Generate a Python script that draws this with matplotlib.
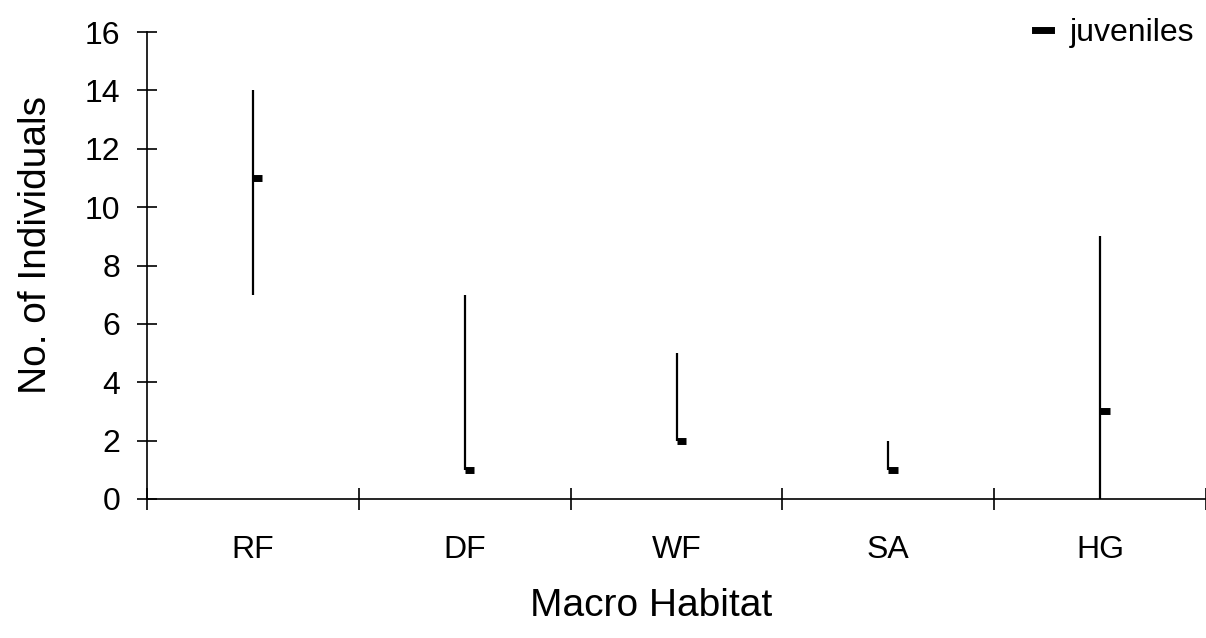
import matplotlib
matplotlib.use("Agg")
import matplotlib.pyplot as plt
from matplotlib.lines import Line2D

# habitat categories and juvenile counts (high / low / close)
habitats = ["RF", "DF", "WF", "SA", "HG"]
high = [14, 7, 5, 2, 9]
low = [7, 1, 2, 1, 0]
juveniles = [11, 1, 2, 1, 3]

plt.rcParams['font.family'] = ['Liberation Sans', 'DejaVu Sans']

fig = plt.figure(figsize=(12.06, 6.38), dpi=100)
ax = fig.add_axes([0.1219, 0.2179, 0.8781, 0.7319])

xs = [i + 0.5 for i in range(len(habitats))]
# high-low lines
ax.vlines(xs, low, high, colors="black", linewidth=1.6)
# close marks
ax.hlines(juveniles, xs, [x + 0.045 for x in xs], colors="black", linewidth=5)

ax.set_xlim(0, len(habitats))
ax.set_ylim(0, 16)
ax.set_yticks(range(0, 17, 2))
ax.set_xticks(range(0, len(habitats) + 1))
ax.set_xticklabels([])
ax.set_xticks(xs, minor=True)
ax.set_xticklabels(habitats, minor=True)

ax.tick_params(axis="y", direction="inout", length=14.5, width=1.2, labelsize=23, pad=12)
ax.tick_params(axis="x", which="major", direction="inout", length=16, width=1.2)
ax.tick_params(axis="x", which="minor", length=0, labelsize=23, pad=26)

for s in ["top", "right"]:
    ax.spines[s].set_visible(False)
ax.spines["left"].set_linewidth(1.2)
ax.spines["bottom"].set_linewidth(1.2)

ax.set_ylabel("No. of Individuals", fontsize=28)
ax.yaxis.set_label_coords(-0.088, 0.544)
ax.set_xlabel("Macro Habitat", fontsize=28)
ax.xaxis.set_label_coords(0.476, -0.19)

handle = Line2D([0], [0], color="black", linewidth=5)
ax.legend([handle], ["juveniles"], loc="upper right", bbox_to_anchor=(1.016, 1.092),
          frameon=False, fontsize=23, handlelength=0.5, handletextpad=0.6)

fig.savefig("out.png", dpi=100)
